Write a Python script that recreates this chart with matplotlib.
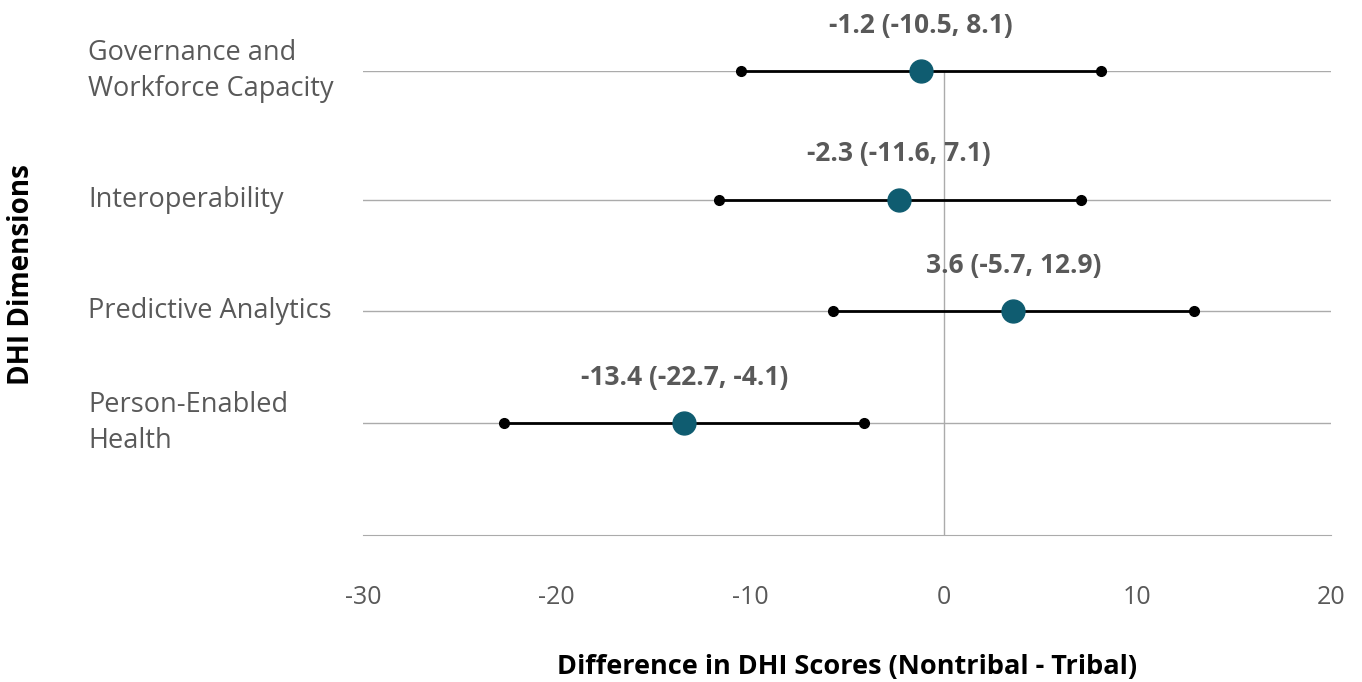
import matplotlib
matplotlib.use("Agg")
import matplotlib.pyplot as plt
import matplotlib.transforms as mtransforms

plt.rcParams['font.family'] = ['Open Sans', 'DejaVu Sans']
plt.rcParams['axes.unicode_minus'] = False

dimensions = ["Governance and\nWorkforce Capacity", "Interoperability",
              "Predictive Analytics", "Person-Enabled\nHealth"]
y_pos = [4.15, 3, 2, 1]
estimate = [-1.2, -2.3, 3.6, -13.4]
lower = [-10.5, -11.6, -5.7, -22.7]
upper = [8.1, 7.1, 12.9, -4.1]

teal = "#0F5C70"
gray_text = "#595959"
grid_col = "#ABABAB"

fig = plt.figure(figsize=(13.62, 6.82), dpi=100)
ax = fig.add_axes([363 / 1362, 147 / 682, 968 / 1362, 464 / 682])

for y in [1, 2, 3, 4.15]:
    ax.axhline(y, color=grid_col, lw=1, zorder=0)
ax.axvline(0, color=grid_col, lw=1, zorder=0)

for yv, est, lo, hi in zip(y_pos, estimate, lower, upper):
    ax.plot([lo, hi], [yv, yv], color="black", lw=2, zorder=2, clip_on=False)
    ax.plot([lo, hi], [yv, yv], "o", color="black", ms=7, zorder=3, clip_on=False)
    ax.plot(est, yv, "o", color=teal, ms=16.5, zorder=4, clip_on=False)
    ax.annotate(f"{est} ({lo}, {hi})", xy=(est, yv), xytext=(0, 33),
                textcoords="offset points", ha="center", va="center",
                fontsize=19, fontweight="bold", color=gray_text,
                annotation_clip=False)

ax.set_xlim(-30, 20)
ax.set_ylim(0, 4.15)
ax.set_xticks([-30, -20, -10, 0, 10, 20])
ax.set_yticks([])
ax.tick_params(axis="x", length=0, pad=36, labelsize=18, labelcolor=gray_text)
for s in ["top", "left", "right"]:
    ax.spines[s].set_visible(False)
ax.spines["bottom"].set_color(grid_col)

trans = mtransforms.blended_transform_factory(fig.transFigure, ax.transData)
for yv, name in zip(y_pos, dimensions):
    ax.text(88 / 1362, yv, name, transform=trans, ha="left", va="center",
            fontsize=19.5, color=gray_text, linespacing=1.38)

fig.text(847 / 1362, 1 - 667 / 682, "Difference in DHI Scores (Nontribal - Tribal)",
         ha="center", va="center", fontsize=19.5, fontweight="bold")
fig.text(22 / 1362, 1 - 275 / 682, "DHI Dimensions", rotation=90,
         ha="center", va="center", fontsize=20, fontweight="bold")

fig.savefig("out.png", dpi=100)
